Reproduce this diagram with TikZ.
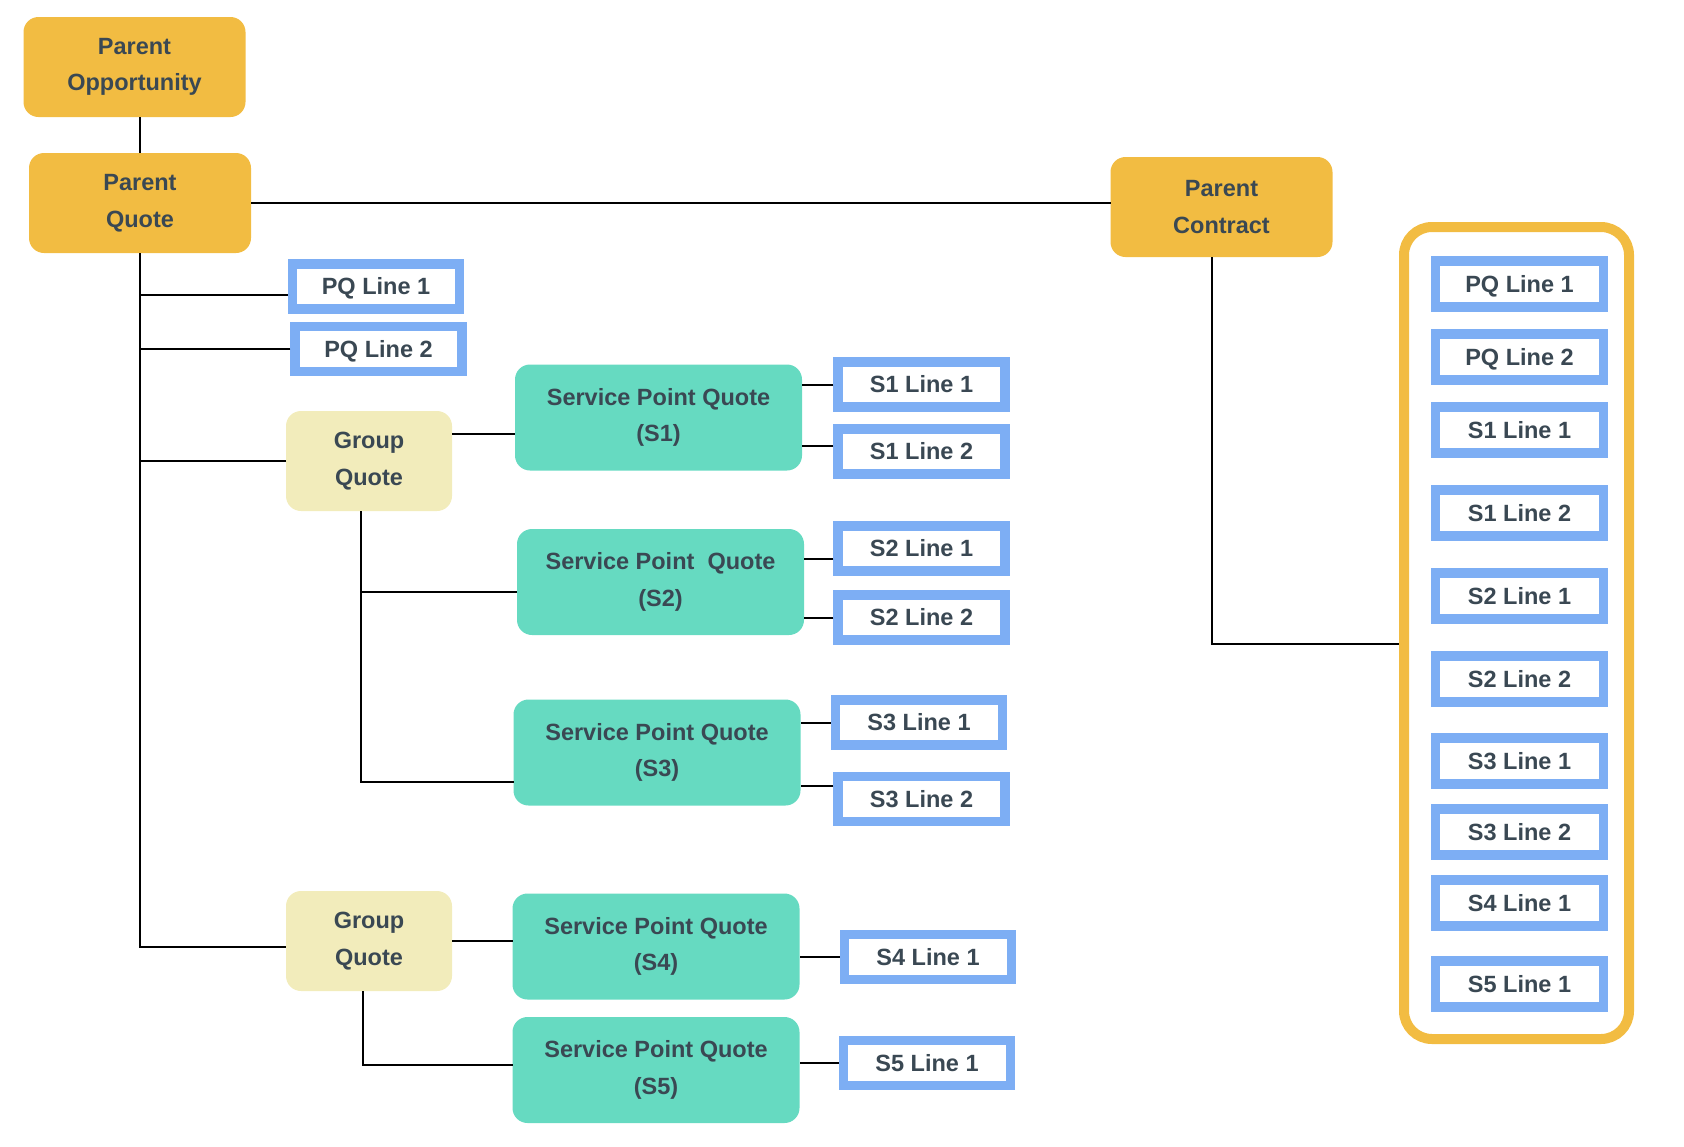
\documentclass[tikz,border=0pt]{standalone}
\usepackage{fontspec}
\setmainfont{Liberation Sans}
\definecolor{orgc}{HTML}{F2BC42}
\definecolor{spqc}{HTML}{66DAC1}
\definecolor{gqc}{HTML}{F2ECBB}
\definecolor{bluec}{HTML}{7DAEF4}
\definecolor{txtc}{HTML}{3A4853}
\begin{document}
\begin{tikzpicture}[x=1pt,y=-1pt,
  every node/.style={font=\fontsize{23.5}{36.5}\selectfont\bfseries, text=txtc, align=center, inner sep=0pt},
  rbox/.style={rounded corners=15pt, outer sep=0pt},
  parentbox/.style={rbox, fill=orgc, minimum width=222pt, minimum height=100pt},
  gqbox/.style={rbox, fill=gqc, minimum width=166pt, minimum height=100pt},
  spbox/.style={rbox, fill=spqc, minimum width=287pt, minimum height=106pt},
  linebox/.style={draw=bluec, line width=9.5pt, fill=white, minimum width=167pt, minimum height=45pt, outer sep=4.75pt, text height=16pt, text depth=0pt},
  cbox/.style={draw=bluec, line width=9.5pt, fill=white, minimum width=168pt, minimum height=46pt, outer sep=4.75pt, text height=16pt, text depth=0pt},
  contbox/.style={draw=orgc, line width=10pt, rounded corners=28pt, minimum width=225pt, minimum height=812pt, outer sep=5pt},
  conn/.style={draw=black, line width=2pt},
]
\useasboundingbox (0,0) rectangle (1684,1146);

% parent nodes
\node[parentbox] (PO) at (134.5,67) {Parent\\Opportunity};
\node[parentbox] (PQ) at (140,203) {Parent\\Quote};
\node[parentbox] (PC) at (1221.5,207) {Parent\\Contract};

% PQ lines
\node[linebox] (PQL1) at (376,286.5) {PQ Line 1};
\node[linebox] (PQL2) at (378.5,349) {PQ Line 2};

% group quotes
\node[gqbox] (GQ1) at (369,461) {Group\\Quote};
\node[gqbox] (GQ2) at (369,941) {Group\\Quote};

% service point quotes
\node[spbox] (S1) at (658.5,417.5) {Service Point Quote\\(S1)};
\node[spbox] (S2) at (660.5,582) {Service Point~~Quote\\(S2)};
\node[spbox] (S3) at (657,752.5) {Service Point Quote\\(S3)};
\node[spbox] (S4) at (656,946.5) {Service Point Quote\\(S4)};
\node[spbox] (S5) at (656,1070) {Service Point Quote\\(S5)};

% service point lines
\node[linebox] (S1L1) at (921.5,384.5) {S1 Line 1};
\node[linebox] (S1L2) at (921.5,451.5) {S1 Line 2};
\node[linebox] (S2L1) at (921.5,548.5) {S2 Line 1};
\node[linebox] (S2L2) at (921.5,617.5) {S2 Line 2};
\node[linebox] (S3L1) at (919,722.5) {S3 Line 1};
\node[linebox] (S3L2) at (921.5,799) {S3 Line 2};
\node[linebox] (S4L1) at (928,957) {S4 Line 1};
\node[linebox] (S5L1) at (927,1063) {S5 Line 1};

% contract container
\node[contbox] (cont) at (1516.5,633) {};
\node[cbox] (CPQ1) at (1519.5,284) {PQ Line 1};
\node[cbox] (CPQ2) at (1519.5,357) {PQ Line 2};
\node[cbox] (CS1a) at (1519.5,430) {S1 Line 1};
\node[cbox] (CS1b) at (1519.5,513) {S1 Line 2};
\node[cbox] (CS2a) at (1519.5,596) {S2 Line 1};
\node[cbox] (CS2b) at (1519.5,679) {S2 Line 2};
\node[cbox] (CS3a) at (1519.5,761) {S3 Line 1};
\node[cbox] (CS3b) at (1519.5,832) {S3 Line 2};
\node[cbox] (CS4a) at (1519.5,903) {S4 Line 1};
\node[cbox] (CS5a) at (1519.5,984) {S5 Line 1};

% connectors
\draw[conn] (PQ.north) -- (PQ.north |- PO.south);
\draw[conn] (PQ.east) -- (PQ.east -| PC.west);
\coordinate (pcs) at ([xshift=-10]PC.south);
\coordinate (conw) at ([yshift=-11]cont.west);
\draw[conn] (pcs) |- (conw);

% main trunk
\coordinate (g2w) at ([yshift=-6]GQ2.west);
\draw[conn] (PQ.south) |- (g2w);
\coordinate (a1) at ([yshift=-8]PQL1.west);
\draw[conn] (a1) -- (a1 -| PQ.south);
\draw[conn] (PQL2.west) -- (PQL2.west -| PQ.south);
\draw[conn] (GQ1.west) -- (GQ1.west -| PQ.south);

% group quote 1
\coordinate (g1e) at ([yshift=27]GQ1.east);
\draw[conn] (g1e) -- (g1e -| S1.west);
\coordinate (g1s) at ([xshift=-8]GQ1.south);
\coordinate (s3w) at ([yshift=-29.5]S3.west);
\coordinate (s2w) at ([yshift=-10]S2.west);
\draw[conn] (g1s) |- (s3w);
\draw[conn] (s2w) -- (s2w -| g1s);

% group quote 2
\draw[conn] (GQ2.east) -- (GQ2.east -| S4.west);
\coordinate (g2s) at ([xshift=-6]GQ2.south);
\coordinate (s5w) at ([yshift=5]S5.west);
\draw[conn] (g2s) |- (s5w);

% service quote to lines
\draw[conn] (S1L1.west) -- (S1L1.west -| S1.east);
\coordinate (b12) at ([yshift=5.5]S1L2.west);
\draw[conn] (b12) -- (b12 -| S1.east);
\coordinate (b21) at ([yshift=-10.5]S2L1.west);
\draw[conn] (b21) -- (b21 -| S2.east);
\draw[conn] (S2L2.west) -- (S2L2.west -| S2.east);
\draw[conn] (S3L1.west) -- (S3L1.west -| S3.east);
\coordinate (b32) at ([yshift=13]S3L2.west);
\draw[conn] (b32) -- (b32 -| S3.east);
\draw[conn] (S4L1.west) -- (S4L1.west -| S4.east);
\draw[conn] (S5L1.west) -- (S5L1.west -| S5.east);
\end{tikzpicture}
\end{document}
